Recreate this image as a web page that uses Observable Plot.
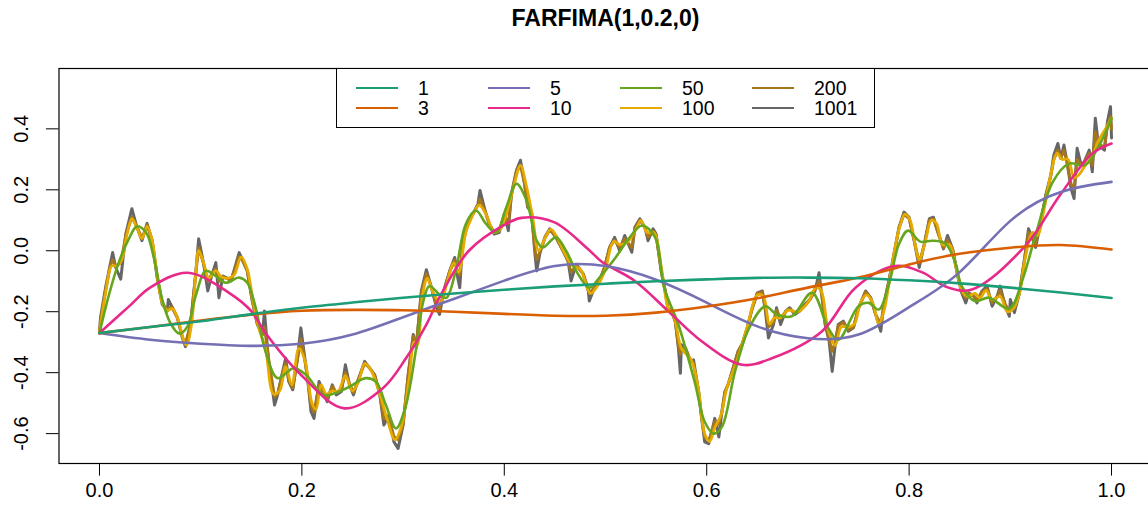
<!DOCTYPE html>
<html><head><meta charset="utf-8">
<script src="https://cdn.jsdelivr.net/npm/d3@7"></script>
<script src="https://cdn.jsdelivr.net/npm/@observablehq/plot@0.6"></script>
<style>
html,body{margin:0;padding:0;background:#fff;overflow:hidden;}
#wrap{position:relative;width:1148px;height:517px;overflow:hidden;font-family:"Liberation Sans",Arial,Helvetica,sans-serif;}
#legend{position:absolute;left:335.5px;top:68px;width:539px;height:60px;border:1px solid #000;background:#fff;box-sizing:border-box;}
.sw{position:absolute;width:42px;height:0;border-top:2.6px solid;}
.lb{position:absolute;font-size:19.5px;line-height:20px;color:#000;}
</style></head>
<body><div id="wrap"><div id="chart"></div><div id="legend"></div></div>
<script>
const title = "FARFIMA(1,0.2,0)";
const seriesNames = ["1","3","5","10","50","100","200","1001"];
const seriesColors = ["#1B9E77","#D95F02","#7570B3","#E7298A","#66A61E","#E6AB02","#A6761D","#666666"];
const xTicks = [0,0.2,0.4,0.6,0.8,1.0];
const yTicks = [-0.6,-0.4,-0.2,0,0.2,0.4];

const xs = [0,0.05,0.1,0.15,0.2,0.25,0.3,0.35,0.4,0.45,0.5,0.55,0.6,0.65,0.7,0.75,0.8,0.85,0.9,0.95,1.0];
const y1 = [-0.27,-0.25,-0.231,-0.208,-0.187,-0.17,-0.154,-0.14,-0.128,-0.117,-0.108,-0.1,-0.094,-0.089,-0.088,-0.09,-0.097,-0.107,-0.121,-0.137,-0.155];
const y3 = [-0.27,-0.25,-0.229,-0.21,-0.197,-0.194,-0.195,-0.2,-0.207,-0.213,-0.213,-0.203,-0.183,-0.156,-0.121,-0.088,-0.045,-0.01,0.01,0.019,0.004];
const y5 = [-0.27,-0.292,-0.305,-0.312,-0.305,-0.275,-0.218,-0.158,-0.098,-0.05,-0.05,-0.095,-0.17,-0.248,-0.287,-0.275,-0.185,-0.07,0.098,0.193,0.226];

const x10 = [0,0.030,0.05,0.087,0.128,0.15,0.164,0.199,0.242,0.280,0.303,0.323,0.338,0.365,0.399,0.417,0.449,0.481,0.496,0.529,0.562,0.595,0.635,0.665,0.714,0.747,0.786,0.813,0.838,0.862,0.915,0.949,0.981,1.0];
const y10 = [-0.27,-0.18,-0.121,-0.072,-0.138,-0.198,-0.27,-0.407,-0.517,-0.451,-0.352,-0.242,-0.14,0.0,0.083,0.108,0.094,0.011,-0.035,-0.099,-0.198,-0.297,-0.374,-0.352,-0.264,-0.121,-0.05,-0.071,-0.12,-0.127,0.017,0.182,0.319,0.352];

const x50 = [0,0.009,0.019,0.029,0.037,0.046,0.054,0.062,0.070,0.079,
0.087,0.095,0.105,0.115,0.125,0.138,0.146,0.154,0.164,0.176,
0.192,0.204,0.222,0.244,0.263,0.273,0.283,0.293,0.302,0.313,
0.320,0.326,0.338,0.343,0.352,0.362,0.372,0.382,0.392,0.402,
0.412,0.422,0.432,0.438,0.451,0.461,0.471,0.484,0.494,0.510,
0.523,0.536,0.549,0.558,0.572,0.588,0.598,0.607,0.615,0.628,
0.642,0.658,0.669,0.684,0.704,0.720,0.730,0.750,0.760,0.770,
0.780,0.790,0.799,0.811,0.823,0.836,0.846,0.852,0.865,0.879,
0.899,0.912,0.925,0.942,0.958,0.974,0.988,1.0];
const y50 = [-0.27,-0.149,-0.039,0.039,0.080,0.060,-0.027,-0.160,-0.237,-0.272,
-0.248,-0.149,-0.066,-0.083,-0.105,-0.088,-0.105,-0.182,-0.33,-0.418,
-0.385,-0.407,-0.473,-0.451,-0.418,-0.429,-0.506,-0.583,-0.517,-0.319,
-0.165,-0.116,-0.150,-0.154,-0.066,0.088,0.132,0.088,0.060,0.143,
0.220,0.165,0.033,0.011,0.044,0.0,-0.066,-0.121,-0.088,-0.022,
0.04,0.083,0.044,-0.121,-0.242,-0.429,-0.561,-0.600,-0.578,-0.396,
-0.253,-0.182,-0.209,-0.215,-0.138,-0.253,-0.292,-0.182,-0.171,-0.193,
-0.110,0.022,0.066,0.03,0.033,0.023,-0.043,-0.116,-0.165,-0.154,
-0.190,-0.095,0.052,0.226,0.286,0.281,0.347,0.435];

const x100 = [0,0.006,0.012,0.017,0.022,0.027,0.032,0.037,0.042,0.047,
0.052,0.057,0.062,0.067,0.072,0.077,0.083,0.086,0.091,0.095,
0.098,0.103,0.108,0.115,0.12,0.127,0.133,0.14,0.146,0.152,
0.158,0.164,0.172,0.178,0.184,0.19,0.197,0.203,0.21,0.214,
0.219,0.224,0.23,0.236,0.243,0.25,0.256,0.262,0.268,0.276,
0.284,0.292,0.298,0.306,0.311,0.314,0.319,0.324,0.33,0.337,
0.343,0.35,0.355,0.362,0.368,0.375,0.382,0.39,0.396,0.402,
0.41,0.416,0.422,0.428,0.434,0.44,0.446,0.452,0.46,0.468,
0.475,0.485,0.493,0.5,0.508,0.515,0.522,0.53,0.535,0.541,
0.548,0.555,0.562,0.568,0.575,0.585,0.592,0.598,0.603,0.608,
0.614,0.62,0.63,0.64,0.65,0.656,0.662,0.667,0.673,0.68,
0.69,0.7,0.708,0.713,0.72,0.727,0.733,0.74,0.746,0.752,
0.758,0.764,0.77,0.775,0.782,0.79,0.796,0.801,0.806,0.81,
0.816,0.822,0.827,0.833,0.84,0.846,0.852,0.858,0.865,0.87,
0.876,0.882,0.89,0.897,0.903,0.909,0.915,0.922,0.927,0.933,
0.94,0.946,0.951,0.957,0.963,0.968,0.974,0.981,0.987,0.994,1.0];
const y100 = [-0.27,-0.14,-0.05,-0.05,-0.03,0.05,0.105,0.075,0.04,0.08,
0.035,-0.08,-0.17,-0.195,-0.19,-0.22,-0.29,-0.31,-0.24,-0.08,
0.0,-0.04,-0.09,-0.065,-0.085,-0.09,-0.08,-0.02,-0.06,-0.17,
-0.26,-0.32,-0.47,-0.46,-0.38,-0.44,-0.32,-0.36,-0.50,-0.52,
-0.44,-0.47,-0.46,-0.46,-0.41,-0.46,-0.43,-0.37,-0.39,-0.46,
-0.55,-0.62,-0.58,-0.42,-0.30,-0.31,-0.15,-0.09,-0.14,-0.17,
-0.11,-0.04,-0.07,0.06,0.11,0.15,0.12,0.06,0.07,0.12,
0.22,0.28,0.21,0.11,0.0,0.04,0.07,0.045,-0.01,-0.05,
-0.06,-0.14,-0.11,-0.06,0.03,0.02,0.03,0.07,0.10,0.06,
0.06,-0.05,-0.19,-0.22,-0.32,-0.36,-0.46,-0.60,-0.625,-0.58,
-0.54,-0.45,-0.36,-0.25,-0.145,-0.15,-0.24,-0.22,-0.22,-0.195,
-0.2,-0.17,-0.12,-0.13,-0.26,-0.31,-0.25,-0.25,-0.24,-0.17,
-0.145,-0.17,-0.24,-0.2,-0.07,0.07,0.12,0.10,0.02,-0.03,
0.03,0.10,0.09,0.02,0.02,-0.05,-0.13,-0.15,-0.14,-0.155,
-0.13,-0.16,-0.15,-0.2,-0.19,-0.14,-0.02,0.06,0.05,0.13,
0.25,0.32,0.30,0.30,0.24,0.25,0.28,0.31,0.36,0.40,0.435];

const xFine = [0,0.001,0.006,0.011,0.013,0.016,0.021,0.026,0.032,0.037,
0.042,0.047,0.052,0.057,0.062,0.067,0.068,0.072,0.077,0.082,
0.085,0.090,0.095,0.098,0.103,0.107,0.111,0.115,0.118,0.122,
0.125,0.130,0.138,0.141,0.146,0.151,0.156,0.161,0.163,0.167,
0.173,0.176,0.181,0.184,0.187,0.191,0.196,0.199,0.202,0.206,
0.209,0.212,0.217,0.222,0.225,0.230,0.234,0.239,0.243,0.247,
0.251,0.255,0.262,0.267,0.272,0.277,0.281,0.286,0.291,0.295,
0.300,0.305,0.310,0.313,0.318,0.323,0.328,0.333,0.336,0.341,
0.346,0.351,0.354,0.356,0.359,0.364,0.369,0.374,0.376,0.381,
0.385,0.390,0.395,0.400,0.404,0.407,0.412,0.416,0.420,0.423,
0.427,0.430,0.432,0.435,0.440,0.445,0.451,0.458,0.463,0.466,
0.471,0.478,0.483,0.484,0.489,0.494,0.499,0.504,0.509,0.514,
0.519,0.526,0.529,0.534,0.539,0.542,0.547,0.550,0.555,0.559,
0.562,0.565,0.569,0.572,0.574,0.575,0.579,0.584,0.587,0.592,
0.595,0.598,0.602,0.605,0.608,0.612,0.615,0.618,0.621,0.625,
0.628,0.631,0.635,0.640,0.645,0.650,0.655,0.658,0.661,0.666,
0.669,0.673,0.678,0.682,0.687,0.692,0.697,0.702,0.707,0.711,
0.714,0.717,0.721,0.724,0.727,0.730,0.735,0.740,0.745,0.750,
0.757,0.762,0.767,0.772,0.775,0.780,0.785,0.790,0.795,0.800,
0.805,0.810,0.815,0.820,0.824,0.829,0.834,0.838,0.843,0.848,
0.852,0.856,0.859,0.864,0.867,0.872,0.877,0.882,0.887,0.890,
0.895,0.899,0.900,0.904,0.909,0.914,0.918,0.922,0.925,0.930,
0.935,0.940,0.943,0.947,0.950,0.953,0.956,0.960,0.963,0.966,
0.970,0.973,0.978,0.981,0.984,0.987,0.993,0.996,0.999,1.0];
const y200 = [-0.27,-0.23,-0.13,-0.045,-0.03,-0.05,-0.04,0.05,0.11,0.08,
0.04,0.085,0.035,-0.085,-0.17,-0.195,-0.19,-0.185,-0.22,-0.285,
-0.305,-0.24,-0.08,0.01,-0.045,-0.10,-0.075,-0.06,-0.10,-0.085,
-0.09,-0.095,-0.02,-0.03,-0.065,-0.165,-0.24,-0.275,-0.25,-0.35,
-0.48,-0.47,-0.40,-0.37,-0.425,-0.45,-0.35,-0.29,-0.34,-0.43,
-0.51,-0.53,-0.44,-0.47,-0.485,-0.445,-0.465,-0.455,-0.40,-0.435,
-0.465,-0.43,-0.37,-0.385,-0.41,-0.47,-0.55,-0.55,-0.61,-0.62,
-0.57,-0.41,-0.28,-0.31,-0.14,-0.075,-0.12,-0.18,-0.19,-0.125,
-0.07,-0.03,-0.07,-0.08,0.02,0.095,0.12,0.15,0.17,0.13,
0.09,0.06,0.065,0.115,0.09,0.18,0.26,0.28,0.22,0.15,
0.12,0.01,-0.03,-0.005,0.04,0.07,0.045,0.0,-0.035,-0.07,
-0.05,-0.075,-0.125,-0.14,-0.12,-0.1,-0.055,0.01,0.035,0.01,
0.04,0.01,0.07,0.1,0.075,0.045,0.065,0.05,-0.065,-0.13,
-0.19,-0.195,-0.235,-0.31,-0.34,-0.32,-0.32,-0.36,-0.37,-0.46,
-0.55,-0.61,-0.625,-0.59,-0.56,-0.57,-0.53,-0.465,-0.44,-0.4,
-0.365,-0.33,-0.305,-0.255,-0.19,-0.14,-0.135,-0.19,-0.25,-0.235,
-0.195,-0.22,-0.2,-0.19,-0.205,-0.195,-0.18,-0.16,-0.125,-0.1,
-0.15,-0.235,-0.29,-0.33,-0.3,-0.245,-0.235,-0.26,-0.25,-0.19,
-0.135,-0.155,-0.21,-0.24,-0.18,-0.1,-0.015,0.075,0.12,0.105,
0.035,-0.04,0.02,0.1,0.105,0.055,0.01,0.035,0.005,-0.08,
-0.135,-0.155,-0.14,-0.15,-0.16,-0.135,-0.125,-0.17,-0.15,-0.13,
-0.175,-0.2,-0.19,-0.19,-0.14,-0.03,0.06,0.04,0.025,0.09,
0.18,0.245,0.3,0.33,0.305,0.33,0.29,0.22,0.2,0.3,
0.28,0.29,0.32,0.28,0.39,0.35,0.34,0.41,0.44,0.4];
const y1001 = [-0.27,-0.22,-0.121,-0.039,-0.006,-0.055,-0.093,0.055,0.138,0.077,
0.033,0.09,0.033,-0.088,-0.176,-0.198,-0.16,-0.187,-0.220,-0.286,
-0.315,-0.242,-0.077,0.039,-0.044,-0.132,-0.08,-0.039,-0.154,-0.083,
-0.088,-0.099,-0.006,-0.027,-0.066,-0.165,-0.242,-0.275,-0.198,-0.36,
-0.506,-0.473,-0.396,-0.352,-0.429,-0.456,-0.341,-0.253,-0.330,-0.429,
-0.528,-0.550,-0.429,-0.473,-0.495,-0.440,-0.473,-0.462,-0.374,-0.440,
-0.473,-0.429,-0.363,-0.385,-0.407,-0.473,-0.572,-0.539,-0.627,-0.649,
-0.572,-0.407,-0.275,-0.319,-0.132,-0.062,-0.121,-0.187,-0.209,-0.121,
-0.066,-0.022,-0.088,-0.121,0.033,0.099,0.121,0.154,0.198,0.132,
0.088,0.055,0.060,0.121,0.066,0.187,0.264,0.297,0.220,0.143,
0.127,0.0,-0.066,-0.011,0.044,0.072,0.044,0.0,-0.033,-0.099,
-0.044,-0.077,-0.132,-0.165,-0.121,-0.099,-0.055,0.011,0.044,0.0,
0.050,-0.005,0.077,0.105,0.077,0.033,0.072,0.055,-0.066,-0.132,
-0.198,-0.193,-0.231,-0.319,-0.402,-0.308,-0.319,-0.363,-0.358,-0.462,
-0.550,-0.627,-0.633,-0.594,-0.550,-0.611,-0.528,-0.462,-0.440,-0.396,
-0.363,-0.330,-0.308,-0.253,-0.187,-0.138,-0.132,-0.198,-0.286,-0.242,
-0.187,-0.242,-0.198,-0.187,-0.209,-0.198,-0.176,-0.160,-0.132,-0.072,
-0.154,-0.242,-0.297,-0.396,-0.308,-0.242,-0.231,-0.264,-0.253,-0.187,
-0.132,-0.154,-0.209,-0.264,-0.176,-0.099,-0.011,0.077,0.127,0.110,
0.033,-0.055,0.022,0.105,0.110,0.055,0.006,0.050,0.006,-0.083,
-0.138,-0.171,-0.138,-0.149,-0.171,-0.132,-0.116,-0.182,-0.149,-0.116,
-0.182,-0.215,-0.160,-0.203,-0.138,-0.027,0.072,0.039,0.011,0.094,
0.182,0.248,0.314,0.352,0.303,0.347,0.292,0.204,0.171,0.336,
0.281,0.292,0.330,0.259,0.435,0.347,0.330,0.424,0.473,0.37];

const seriesX = [xs, xs, xs, x10, x50, x100, xFine, xFine];
const seriesY = [y1, y3, y5, y10, y50, y100, y200, y1001];
const curves = ["natural","natural","natural","catmull-rom","catmull-rom","catmull-rom","linear","linear"];
const widths = [2.6, 2.6, 2.6, 2.6, 2.6, 2.8, 2.9, 3.0];

const fontSize = 20;
const lineMarks = [];
for (let k = seriesNames.length - 1; k >= 0; k--) {
  const n = Math.min(seriesX[k].length, seriesY[k].length);
  const data = d3.range(n).map(i => ({x: seriesX[k][i], y: seriesY[k][i]}));
  lineMarks.push(Plot.line(data, {x: "x", y: "y", stroke: seriesColors[k], strokeWidth: widths[k], curve: curves[k], strokeLinejoin: "round"}));
}

const chart = Plot.plot({
  width: 1148, height: 517,
  marginLeft: 58.5, marginRight: -3.5, marginTop: 68, marginBottom: 54,
  style: {fontFamily: '"Liberation Sans", Arial, Helvetica, sans-serif', fontSize: fontSize + "px", background: "#fff", color: "#000"},
  x: {domain: [-0.04, 1.04]},
  y: {domain: [-0.698, 0.598]},
  marks: [
    ...lineMarks,
    Plot.frame({stroke: "#000", strokeWidth: 1.2}),
    Plot.axisX(xTicks, {tickSize: 12.6, tickPadding: 7, tickFormat: d => d.toFixed(1), fontSize: fontSize, label: null, stroke: "#000"}),
    Plot.axisY(yTicks, {tickSize: 12.6, tickFormat: () => "", label: null, stroke: "#000"}),
    Plot.text(yTicks, {y: d => d, text: d => d.toFixed(1), frameAnchor: "left", dx: -37.7, rotate: -90, textAnchor: "middle", lineAnchor: "middle", fontSize: fontSize, fill: "#000"}),
    Plot.text([title], {frameAnchor: "top", dy: -50, text: d => d, fontWeight: "bold", fontSize: 23, lineAnchor: "middle", fill: "#000"})
  ]
});
document.getElementById("chart").appendChild(chart);

const legend = document.getElementById("legend");
seriesNames.forEach((name, k) => {
  const col = Math.floor(k / 2), row = k % 2;
  const sw = document.createElement("div");
  sw.className = "sw";
  sw.style.left = (19.5 + col * 132) + "px";
  sw.style.top = (18 + row * 20.3) + "px";
  sw.style.borderTopColor = seriesColors[k];
  legend.appendChild(sw);
  const lb = document.createElement("div");
  lb.className = "lb";
  lb.textContent = name;
  lb.style.left = (81.5 + col * 132) + "px";
  lb.style.top = (9 + row * 20.3) + "px";
  legend.appendChild(lb);
});
</script></body></html>
